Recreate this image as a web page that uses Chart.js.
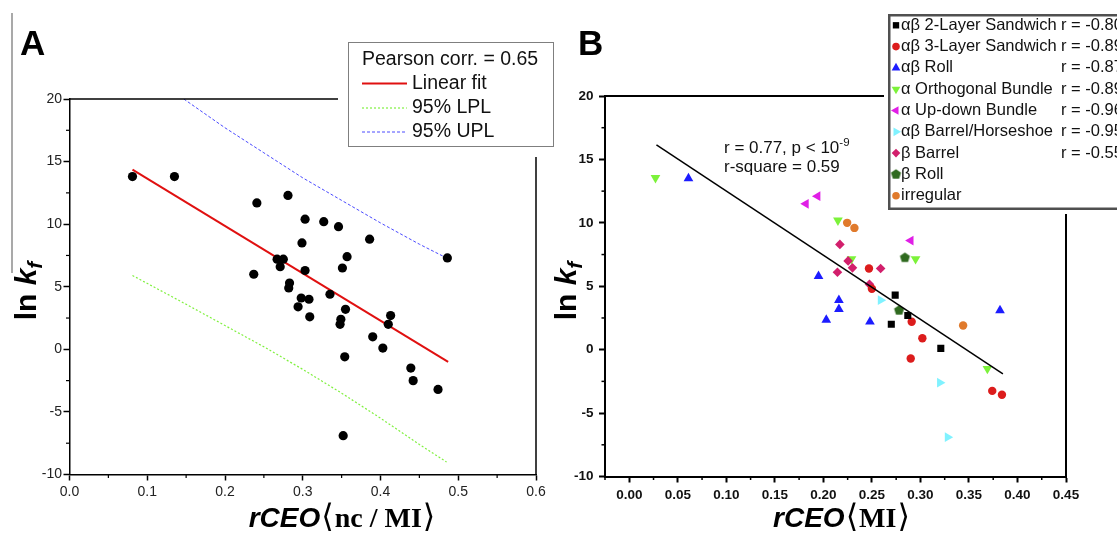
<!DOCTYPE html>
<html>
<head>
<meta charset="utf-8">
<title>ln kf versus rCEO</title>
<script src="https://cdn.jsdelivr.net/npm/chart.js@4.4.1/dist/chart.umd.min.js"></script>
<style>
  html, body { margin: 0; padding: 0; background: #ffffff; }
  body { position: relative; width: 1117px; height: 534px; overflow: hidden; }
  canvas { position: absolute; top: 0; }
  #chartA { left: 0; }
  #chartB { left: 540px; }
</style>
</head>
<body>
<canvas id="chartA" width="560" height="534"></canvas>
<canvas id="chartB" width="577" height="534"></canvas>
<script>
const SANS = '"Liberation Sans", Arial, Helvetica, sans-serif';
const SERIF = '"Liberation Serif", "Times New Roman", "DejaVu Serif", "DejaVu Sans", serif';
Chart.defaults.font.family = SANS;
Chart.defaults.color = '#1a1a1a';

// ---------- Panel A: ln kf against rCEO<nc/MI> ----------
const aTicksX = [0.0, 0.1, 0.2, 0.3, 0.4, 0.5, 0.6];
const aTicksY = [-10, -5, 0, 5, 10, 15, 20];
const aMinorX = [0.05, 0.15, 0.25, 0.35, 0.45, 0.55];
const aMinorY = [-7.5, -2.5, 2.5, 7.5, 12.5, 17.5];

const aProteinX = [0.081, 0.135, 0.241, 0.281, 0.303, 0.327, 0.346, 0.299, 0.386, 0.486,
                   0.357, 0.351, 0.267, 0.275, 0.271, 0.303, 0.237, 0.283, 0.282, 0.335,
                   0.298, 0.308, 0.294, 0.355, 0.413, 0.410, 0.309, 0.349, 0.348, 0.390,
                   0.403, 0.354, 0.439, 0.442, 0.474, 0.352];
const aProteinY = [13.8, 13.8, 11.7, 12.3, 10.4, 10.2, 9.8, 8.5, 8.8, 7.3,
                   7.4, 6.5, 7.2, 7.2, 6.6, 6.3, 6.0, 5.3, 4.9, 4.4,
                   4.1, 4.0, 3.4, 3.2, 2.7, 2.0, 2.6, 2.4, 2.0, 1.0,
                   0.1, -0.6, -1.5, -2.5, -3.2, -6.9];

const aFitX = [0.081, 0.487];
const aFitY = [14.35, -1.0];
const aLplX = [0.081, 0.15, 0.2, 0.25, 0.3, 0.35, 0.4, 0.45, 0.485];
const aLplY = [5.9, 3.6, 1.9, 0.2, -1.6, -3.5, -5.5, -7.6, -9.0];
const aUplX = [0.147, 0.2, 0.25, 0.3, 0.35, 0.4, 0.45, 0.485];
const aUplY = [20.0, 17.7, 15.7, 13.7, 11.9, 10.1, 8.4, 7.3];

const aPearson = 'Pearson corr. = 0.65';
const aLegendLabels = ['Linear fit', '95% LPL', '95% UPL'];

// ---------- Panel B: ln kf against rCEO<MI>, by fold class ----------
const bTicksX = [0.00, 0.05, 0.10, 0.15, 0.20, 0.25, 0.30, 0.35, 0.40, 0.45];
const bTicksY = [-10, -5, 0, 5, 10, 15, 20];
const bMinorX = [-0.025, 0.025, 0.075, 0.125, 0.175, 0.225, 0.275, 0.325, 0.375, 0.425];
const bMinorY = [-7.5, -2.5, 2.5, 7.5, 12.5, 17.5];

const sand2X = [0.274, 0.287, 0.270, 0.321];
const sand2Y = [4.3, 2.7, 2.0, 0.1];
const sand3X = [0.247, 0.250, 0.291, 0.302, 0.290, 0.374, 0.384];
const sand3Y = [6.4, 4.8, 2.2, 0.9, -0.7, -3.25, -3.55];
const rollX = [0.061, 0.195, 0.216, 0.216, 0.203, 0.248, 0.382];
const rollY = [13.5, 5.8, 3.9, 3.2, 2.35, 2.2, 3.1];
const orthoX = [0.027, 0.215, 0.229, 0.295, 0.369];
const orthoY = [13.55, 10.2, 7.15, 7.15, -1.5];
const updownX = [0.182, 0.194, 0.290];
const updownY = [11.5, 12.1, 8.6];
const horseX = [0.259, 0.320, 0.328];
const horseY = [3.9, -2.6, -6.9];
const bBarrelX = [0.217, 0.2255, 0.230, 0.2145, 0.259, 0.2475];
const bBarrelY = [8.3, 7.0, 6.45, 6.1, 6.4, 5.15];
const bRollX = [0.284, 0.278];
const bRollY = [7.25, 3.1];
const irregX = [0.2245, 0.232, 0.344];
const irregY = [10.0, 9.6, 1.9];

const bFitX = [0.028, 0.385];
const bFitY = [16.15, -1.9];

const bClassNames = ['αβ 2-Layer Sandwich', 'αβ 3-Layer Sandwich', 'αβ Roll', 'α Orthogonal Bundle',
                     'α Up-down Bundle', 'αβ Barrel/Horseshoe', 'β Barrel', 'β Roll', 'irregular'];
const bClassR = ['r = -0.80', 'r = -0.89', 'r = -0.87', 'r = -0.89', 'r = -0.96', 'r = -0.95', 'r = -0.55', '', ''];
const bStatLine1 = 'r = 0.77, p < 10';
const bStatExp = '-9';
const bStatLine2 = 'r-square = 0.59';

// ---------- helpers ----------
function pairs(xs, ys) { return xs.map((x, i) => ({ x: x, y: ys[i] })); }

function pentagonImage(color, r) {
  const s = Math.ceil(r * 2 + 2);
  const c = document.createElement('canvas');
  c.width = s; c.height = s;
  const g = c.getContext('2d');
  g.fillStyle = color;
  g.beginPath();
  for (let i = 0; i < 5; i++) {
    const a = -Math.PI / 2 + i * 2 * Math.PI / 5;
    const px = s / 2 + r * Math.cos(a), py = s / 2 + r * Math.sin(a);
    if (i === 0) g.moveTo(px, py); else g.lineTo(px, py);
  }
  g.closePath();
  g.fill();
  return c;
}

function seg(ctx, x1, y1, x2, y2) {
  ctx.beginPath(); ctx.moveTo(x1, y1); ctx.lineTo(x2, y2); ctx.stroke();
}

function drawParts(ctx, parts, x, y, align) {
  let total = 0;
  parts.forEach(p => { ctx.font = p.font; p.w = ctx.measureText(p.text).width; total += p.w + (p.gap || 0); });
  let cx = align === 'center' ? x - total / 2 : x;
  parts.forEach(p => {
    ctx.font = p.font;
    ctx.fillText(p.text, cx, y + (p.dy || 0));
    cx += p.w + (p.gap || 0);
  });
}

function drawYTitle(ctx, bx, cy) {
  ctx.save();
  ctx.translate(bx, cy);
  ctx.rotate(-Math.PI / 2);
  ctx.fillStyle = '#000';
  ctx.textBaseline = 'alphabetic';
  drawParts(ctx, [
    { text: 'ln ', font: 'bold 30px ' + SANS },
    { text: 'k', font: 'italic bold 30px ' + SANS },
    { text: 'f', font: 'italic bold 21px ' + SANS, dy: 6 }
  ], 0, 0, 'center');
  ctx.restore();
}

function drawXTitle(ctx, cx, by, inner) {
  ctx.save();
  ctx.fillStyle = '#000';
  ctx.textBaseline = 'alphabetic';
  drawParts(ctx, [
    { text: 'rCEO', font: 'italic bold 28px ' + SANS, gap: 1 },
    { text: '⟨', font: '32px ' + SERIF, gap: 1 },
    { text: inner, font: 'bold 28px ' + SERIF, gap: 1 },
    { text: '⟩', font: '32px ' + SERIF }
  ], cx, by, 'center');
  ctx.restore();
}

function minorTicks(ctx, chart, xs, ys, len) {
  const ca = chart.chartArea, sx = chart.scales.x, sy = chart.scales.y;
  xs.forEach(v => { const p = sx.getPixelForValue(v); seg(ctx, p, ca.bottom, p, ca.bottom + len); });
  ys.forEach(v => { const p = sy.getPixelForValue(v); seg(ctx, ca.left, p, ca.left - len, p); });
}

function fixedTicks(values) {
  return function (scale) { scale.ticks = values.map(v => ({ value: v })); };
}

// ---------- Panel A drawing ----------
const panelADecor = {
  id: 'panelADecor',
  afterDraw(chart) {
    const ctx = chart.ctx, ca = chart.chartArea;
    ctx.save();
    // thin grey rule along the left margin
    ctx.strokeStyle = '#8c8c8c'; ctx.lineWidth = 1.5;
    seg(ctx, 12, 13, 12, 273);
    // frame: top and right edges
    ctx.strokeStyle = '#000'; ctx.lineWidth = 1.5;
    seg(ctx, ca.left, ca.top, ca.right, ca.top);
    seg(ctx, ca.right, ca.top, ca.right, ca.bottom);
    ctx.lineWidth = 1.2;
    minorTicks(ctx, chart, aMinorX, aMinorY, 3.5);
    // panel letter
    ctx.fillStyle = '#000';
    ctx.font = 'bold 35px ' + SANS;
    ctx.textBaseline = 'alphabetic';
    ctx.fillText('A', 20, 55);
    // legend box
    ctx.fillStyle = '#fff';
    ctx.fillRect(338, 30, 230, 127);
    ctx.strokeStyle = '#7f7f7f'; ctx.lineWidth = 1;
    ctx.strokeRect(348.5, 42.5, 205, 104);
    ctx.fillStyle = '#111';
    ctx.font = '19.5px ' + SANS;
    ctx.textBaseline = 'middle';
    ctx.fillText(aPearson, 362, 60);
    const rowsY = [83.5, 108, 132];
    const styles = [
      { c: '#e01010', w: 2, d: [] },
      { c: '#80f040', w: 1.2, d: [2, 2] },
      { c: '#4a4aff', w: 1, d: [3, 2] }
    ];
    rowsY.forEach((ry, i) => {
      ctx.strokeStyle = styles[i].c; ctx.lineWidth = styles[i].w; ctx.setLineDash(styles[i].d);
      seg(ctx, 362, ry, 407, ry);
      ctx.setLineDash([]);
      ctx.fillStyle = '#111';
      ctx.fillText(aLegendLabels[i], 412, ry);
    });
    // axis titles
    drawYTitle(ctx, 36, 291);
    drawXTitle(ctx, 342, 527, 'nc / MI');
    ctx.restore();
  }
};

new Chart(document.getElementById('chartA'), {
  type: 'scatter',
  data: {
    datasets: [
      { data: pairs(aProteinX, aProteinY), pointStyle: 'circle', pointRadius: 4.6,
        backgroundColor: '#000', borderColor: '#000', borderWidth: 0 },
      { data: pairs(aFitX, aFitY), showLine: true, pointRadius: 0, borderColor: '#e01010', borderWidth: 2 },
      { data: pairs(aLplX, aLplY), showLine: true, pointRadius: 0, borderColor: '#80f040',
        borderWidth: 1.2, borderDash: [2, 2] },
      { data: pairs(aUplX, aUplY), showLine: true, pointRadius: 0, borderColor: '#4a4aff',
        borderWidth: 1, borderDash: [3, 2] }
    ]
  },
  options: {
    responsive: false,
    animation: false,
    events: [],
    layout: { padding: { left: 0, top: 99, right: 24, bottom: 0 } },
    plugins: { legend: { display: false }, tooltip: { enabled: false } },
    scales: {
      x: {
        type: 'linear', min: 0, max: 0.6,
        afterBuildTicks: fixedTicks(aTicksX),
        afterFit: s => { s.height = 59.5; },
        grid: { display: true, drawOnChartArea: false, drawTicks: true, tickLength: 6, tickColor: '#000', tickWidth: 1.5 },
        border: { display: true, color: '#000', width: 1.5 },
        ticks: { autoSkip: false, maxRotation: 0, padding: 3.5, color: '#222', font: { size: 14 },
                 callback: v => v.toFixed(1) }
      },
      y: {
        type: 'linear', min: -10, max: 20,
        afterBuildTicks: fixedTicks(aTicksY),
        afterFit: s => { s.width = 69.5; },
        grid: { display: true, drawOnChartArea: false, drawTicks: true, tickLength: 6, tickColor: '#000', tickWidth: 1.5 },
        border: { display: true, color: '#000', width: 1.5 },
        ticks: { autoSkip: false, padding: 1.5, color: '#222', font: { size: 14 },
                 callback: v => String(v) }
      }
    }
  },
  plugins: [panelADecor]
});

// ---------- Panel B drawing ----------
const bSeries = [
  { xs: sand2X, ys: sand2Y, color: '#000000', style: 'rect', rot: 0, r: 5, order: 1 },
  { xs: sand3X, ys: sand3Y, color: '#dc1c1c', style: 'circle', rot: 0, r: 4.2, order: 2 },
  { xs: rollX, ys: rollY, color: '#1c1cff', style: 'triangle', rot: 0, r: 5.6, order: 3 },
  { xs: orthoX, ys: orthoY, color: '#7cf23a', style: 'triangle', rot: 180, r: 5.6, order: 9 },
  { xs: updownX, ys: updownY, color: '#e01ee6', style: 'triangle', rot: 270, r: 5.6, order: 4 },
  { xs: horseX, ys: horseY, color: '#80f2ff', style: 'triangle', rot: 90, r: 5.6, order: 5 },
  { xs: bBarrelX, ys: bBarrelY, color: '#d21f6c', style: 'rectRot', rot: 0, r: 4.8, order: 6 },
  { xs: bRollX, ys: bRollY, color: '#2f6a1f', style: pentagonImage('#2f6a1f', 5.3), rot: 0, r: 5.3, order: 7 },
  { xs: irregX, ys: irregY, color: '#e07a2c', style: 'circle', rot: 0, r: 4.2, order: 8 }
];

const panelBDecor = {
  id: 'panelBDecor',
  afterDraw(chart) {
    const ctx = chart.ctx, ca = chart.chartArea;
    ctx.save();
    ctx.strokeStyle = '#000'; ctx.lineWidth = 2;
    seg(ctx, ca.left, ca.top, ca.right, ca.top);
    seg(ctx, ca.right, ca.top, ca.right, ca.bottom);
    ctx.lineWidth = 1.5;
    minorTicks(ctx, chart, bMinorX, bMinorY, 3.5);
    // panel letter
    ctx.fillStyle = '#000';
    ctx.font = 'bold 35px ' + SANS;
    ctx.textBaseline = 'alphabetic';
    ctx.fillText('B', 38, 55);
    // correlation note
    ctx.fillStyle = '#111';
    drawParts(ctx, [
      { text: bStatLine1, font: '17px ' + SANS },
      { text: bStatExp, font: '11.5px ' + SANS, dy: -7 }
    ], 184, 153, 'left');
    ctx.font = '17px ' + SANS;
    ctx.fillText(bStatLine2, 184, 172);
    // legend box
    ctx.fillStyle = '#fff';
    ctx.fillRect(344, 8, 240, 206);
    ctx.strokeStyle = '#505050'; ctx.lineWidth = 2.5;
    ctx.strokeRect(349.25, 15.25, 300, 193.5);
    ctx.textBaseline = 'middle';
    ctx.font = '16.5px ' + SANS;
    bSeries.forEach((s, i) => {
      const ry = 25.3 + i * 21.3;
      ctx.fillStyle = s.color; ctx.strokeStyle = s.color;
      Chart.helpers.drawPoint(ctx, { pointStyle: s.style, rotation: s.rot, radius: s.r * 0.9, borderWidth: 0 }, 356, ry);
      ctx.fillStyle = '#111';
      ctx.fillText(bClassNames[i], 361, ry);
      if (bClassR[i]) ctx.fillText(bClassR[i], 521, ry);
    });
    drawYTitle(ctx, 36, 291);
    drawXTitle(ctx, 301.5, 527, 'MI');
    ctx.restore();
  }
};

const bDatasets = [
  { data: pairs(bFitX, bFitY), showLine: true, pointRadius: 0, borderColor: '#000', borderWidth: 1.5, order: 0 }
].concat(bSeries.map(s => ({
  data: pairs(s.xs, s.ys), pointStyle: s.style, rotation: s.rot, pointRadius: s.r,
  backgroundColor: s.color, borderColor: s.color, borderWidth: 0, showLine: false, order: s.order
})));

new Chart(document.getElementById('chartB'), {
  type: 'scatter',
  data: { datasets: bDatasets },
  options: {
    responsive: false,
    animation: false,
    events: [],
    layout: { padding: { left: 0, top: 96, right: 51, bottom: 0 } },
    plugins: { legend: { display: false }, tooltip: { enabled: false } },
    scales: {
      x: {
        type: 'linear', min: -0.025, max: 0.45,
        afterBuildTicks: fixedTicks(bTicksX),
        afterFit: s => { s.height = 57.5; },
        grid: { display: true, drawOnChartArea: false, drawTicks: true, tickLength: 6, tickColor: '#000', tickWidth: 2 },
        border: { display: true, color: '#000', width: 2 },
        ticks: { autoSkip: false, maxRotation: 0, padding: 4.3, color: '#111',
                 font: { size: 13.5, weight: 'bold' }, callback: v => v.toFixed(2) }
      },
      y: {
        type: 'linear', min: -10, max: 20,
        afterBuildTicks: fixedTicks(bTicksY),
        afterFit: s => { s.width = 65; },
        grid: { display: true, drawOnChartArea: false, drawTicks: true, tickLength: 6, tickColor: '#000', tickWidth: 2 },
        border: { display: true, color: '#000', width: 2 },
        ticks: { autoSkip: false, padding: 5.5, color: '#111',
                 font: { size: 13.5, weight: 'bold' }, callback: v => String(v) }
      }
    }
  },
  plugins: [panelBDecor]
});
</script>
</body>
</html>
